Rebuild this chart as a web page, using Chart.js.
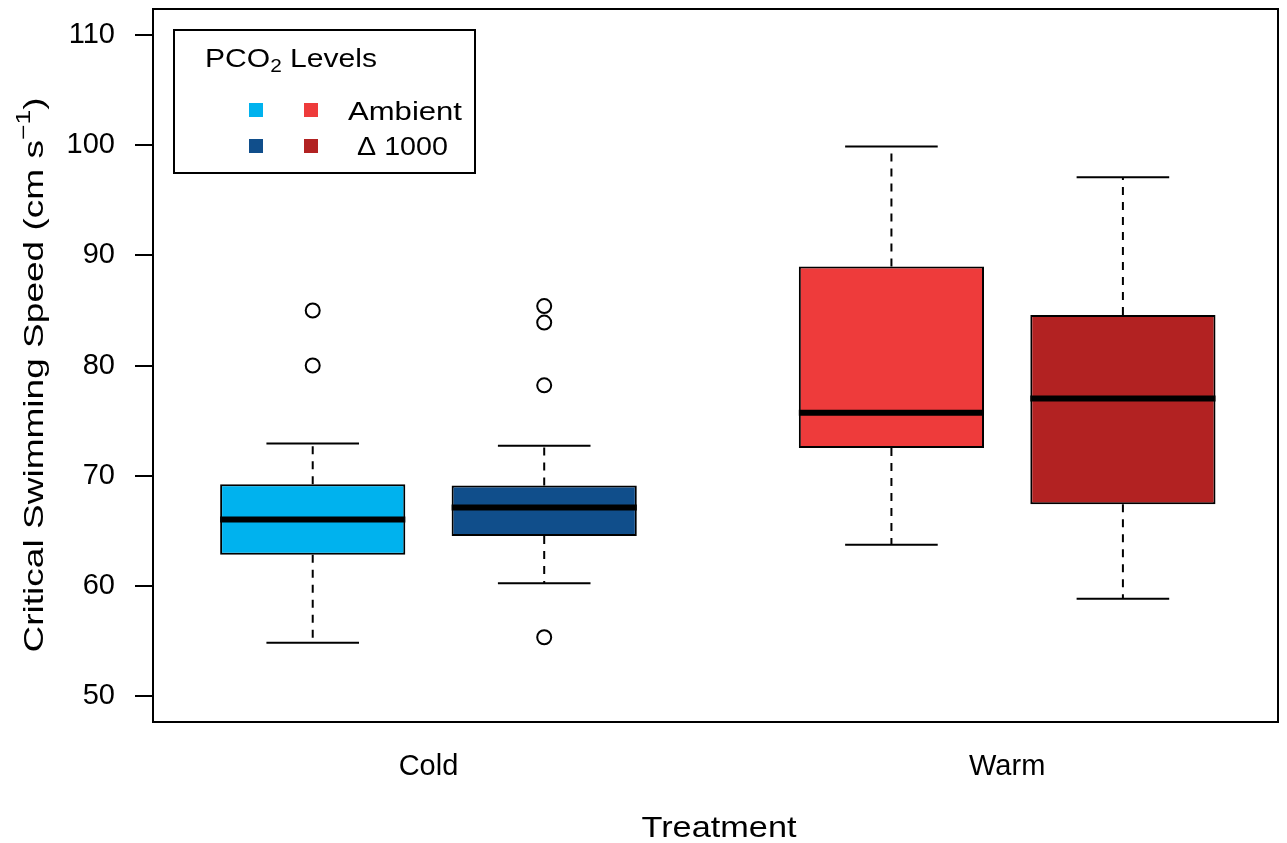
<!DOCTYPE html>
<html>
<head>
<meta charset="utf-8">
<title>Critical swimming speed</title>
<script src="https://cdn.jsdelivr.net/npm/chart.js@4.4.1/dist/chart.umd.min.js"></script>
<style>
    body { margin: 0; background: #fff; }
    canvas { display: block; }
</style>
</head>
<body>
<canvas id="chart" width="1287" height="843"></canvas>
<script>
// box positions on the x axis (Cold: 1, 2 / Warm: 3.5, 4.5)
const positions = [1, 2, 3.5, 4.5];
const boxColors = ['#00B2EE', '#104E8B', '#EE3B3B', '#B22222'];

// five number summaries
const lowerWhisker = [54.8, 60.2, 63.7, 58.8];
const lowerQuartile = [62.8, 64.5, 72.5, 67.4];
const medians = [66.0, 67.1, 75.7, 77.0];
const upperQuartile = [69.2, 69.1, 89.0, 84.6];
const upperWhisker = [72.9, 72.7, 99.9, 97.1];

// outliers per box
const outliersColdAmbient = [85.0, 80.0];
const outliersColdHigh = [85.4, 83.9, 78.2, 55.3];
const outliersWarmAmbient = [];
const outliersWarmHigh = [];

// axis ticks
const groupTicks = [1.5, 4];
const groupLabels = ['Cold', 'Warm'];
const yTicks = [50, 60, 70, 80, 90, 100, 110];

const FONT = '"Liberation Sans", Arial, Helvetica, sans-serif';

const allOutliers = [outliersColdAmbient, outliersColdHigh, outliersWarmAmbient, outliersWarmHigh];
const outlierPoints = [];
allOutliers.forEach((list, i) => {
    list.forEach(v => outlierPoints.push({ x: positions[i], y: v }));
});

// draw text runs (with sub/superscripts), stretched to a given width
function drawRuns(ctx, runs, x, y, width, align) {
    ctx.save();
    let total = 0;
    const widths = runs.map(r => {
        ctx.font = `${r.size}px ${FONT}`;
        const w = ctx.measureText(r.text).width;
        total += w;
        return w;
    });
    const sx = width ? width / total : 1;
    ctx.translate(x, y);
    ctx.scale(sx, 1);
    ctx.fillStyle = '#000';
    ctx.textAlign = 'left';
    ctx.textBaseline = 'alphabetic';
    let cx = align === 'center' ? -total / 2 : 0;
    runs.forEach((r, i) => {
        ctx.font = `${r.size}px ${FONT}`;
        ctx.fillText(r.text, cx, r.dy || 0);
        cx += widths[i];
    });
    ctx.restore();
}

// no extra padding from tick labels: the plot area is set by the layout
function fixSize(prop, size) {
    return (scale) => {
        scale[prop] = size;
        scale.paddingTop = 0;
        scale.paddingBottom = 0;
        scale.paddingLeft = 0;
        scale.paddingRight = 0;
    };
}

const boxplotPlugin = {
    id: 'boxplotLines',
    beforeDatasetsDraw(chart) {
        const { ctx, scales: { x, y } } = chart;
        ctx.save();
        ctx.strokeStyle = '#000';
        ctx.lineWidth = 2;
        positions.forEach((pos, i) => {
            const px = x.getPixelForValue(pos);
            const half = x.getPixelForValue(pos + 0.2) - px;
            // dashed whiskers
            ctx.setLineDash([8, 7]);
            ctx.beginPath();
            ctx.moveTo(px, y.getPixelForValue(upperQuartile[i]));
            ctx.lineTo(px, y.getPixelForValue(upperWhisker[i]));
            ctx.moveTo(px, y.getPixelForValue(lowerQuartile[i]));
            ctx.lineTo(px, y.getPixelForValue(lowerWhisker[i]));
            ctx.stroke();
            // staples
            ctx.setLineDash([]);
            ctx.beginPath();
            ctx.moveTo(px - half, y.getPixelForValue(upperWhisker[i]));
            ctx.lineTo(px + half, y.getPixelForValue(upperWhisker[i]));
            ctx.moveTo(px - half, y.getPixelForValue(lowerWhisker[i]));
            ctx.lineTo(px + half, y.getPixelForValue(lowerWhisker[i]));
            ctx.stroke();
        });
        ctx.restore();
    },
    afterDatasetsDraw(chart) {
        const { ctx, scales: { x, y } } = chart;
        ctx.save();
        ctx.strokeStyle = '#000';
        ctx.lineWidth = 6;
        ctx.lineCap = 'butt';
        positions.forEach((pos, i) => {
            const left = x.getPixelForValue(pos - 0.4);
            const right = x.getPixelForValue(pos + 0.4);
            const py = y.getPixelForValue(medians[i]);
            ctx.beginPath();
            ctx.moveTo(left, py);
            ctx.lineTo(right, py);
            ctx.stroke();
        });
        ctx.restore();
    },
    afterDraw(chart) {
        const { ctx, chartArea: a } = chart;
        ctx.save();
        // plot frame
        ctx.strokeStyle = '#000';
        ctx.lineWidth = 2;
        ctx.strokeRect(a.left, a.top, a.right - a.left, a.bottom - a.top);

        // axis titles
        drawRuns(ctx, [{ text: 'Treatment', size: 30 }], 719, 837, 155, 'center');
        ctx.save();
        ctx.translate(43, 375);
        ctx.rotate(-Math.PI / 2);
        drawRuns(ctx, [
            { text: 'Critical Swimming Speed (cm s', size: 28 },
            { text: '\u22121', size: 20, dy: -13 },
            { text: ')', size: 28 }
        ], 0, 0, 555, 'center');
        ctx.restore();

        // legend
        ctx.lineWidth = 2;
        ctx.strokeRect(174, 30, 301, 143);
        drawRuns(ctx, [
            { text: 'PCO', size: 26 },
            { text: '2', size: 18, dy: 5 },
            { text: ' Levels', size: 26 }
        ], 205, 67, 172, 'left');
        const sq = 14;
        [[256, 110, 0], [311, 110, 2], [256, 146, 1], [311, 146, 3]].forEach(([cx, cy, c]) => {
            ctx.fillStyle = boxColors[c];
            ctx.fillRect(cx - sq / 2, cy - sq / 2, sq, sq);
        });
        drawRuns(ctx, [{ text: 'Ambient', size: 26 }], 348, 120, 114, 'left');
        drawRuns(ctx, [{ text: '\u0394 1000', size: 26 }], 357, 155, 91, 'left');
        ctx.restore();
    }
};

const ctx = document.getElementById('chart').getContext('2d');

new Chart(ctx, {
    type: 'bar',
    data: {
        datasets: [{
            type: 'bar',
            data: positions.map((p, i) => ({ x: p, y: [lowerQuartile[i], upperQuartile[i]] })),
            backgroundColor: boxColors,
            borderColor: '#000',
            borderWidth: 2,
            borderSkipped: false,
            categoryPercentage: 1,
            barPercentage: 0.8,
            order: 2
        }, {
            type: 'scatter',
            data: outlierPoints,
            pointStyle: 'circle',
            pointRadius: 7,
            pointBorderWidth: 2,
            pointBorderColor: '#000',
            pointBackgroundColor: 'rgba(255,255,255,0)',
            order: 1
        }]
    },
    options: {
        responsive: false,
        animation: false,
        events: [],
        layout: { padding: { top: 8, right: 4, left: 0, bottom: 0 } },
        plugins: {
            legend: { display: false },
            tooltip: { enabled: false }
        },
        scales: {
            x: {
                type: 'linear',
                position: 'bottom',
                offset: false,
                min: 0.31,
                max: 5.17,
                afterFit: fixSize('height', 121),
                afterBuildTicks: (scale) => { scale.ticks = groupTicks.map(v => ({ value: v })); },
                grid: { display: false, drawTicks: false },
                border: { display: false },
                ticks: {
                    color: '#000',
                    padding: 28,
                    maxRotation: 0,
                    autoSkip: false,
                    font: { family: FONT, size: 29 },
                    callback: (value) => groupLabels[groupTicks.indexOf(value)]
                }
            },
            y: {
                type: 'linear',
                position: 'left',
                min: 47.6,
                max: 112.4,
                afterFit: fixSize('width', 153),
                afterBuildTicks: (scale) => { scale.ticks = yTicks.map(v => ({ value: v })); },
                grid: {
                    drawOnChartArea: false,
                    drawTicks: true,
                    tickLength: 18,
                    color: '#000',
                    lineWidth: 2
                },
                border: { display: false },
                ticks: {
                    color: '#000',
                    padding: 20,
                    font: { family: FONT, size: 29 }
                }
            }
        }
    },
    plugins: [boxplotPlugin]
});
</script>
</body>
</html>
